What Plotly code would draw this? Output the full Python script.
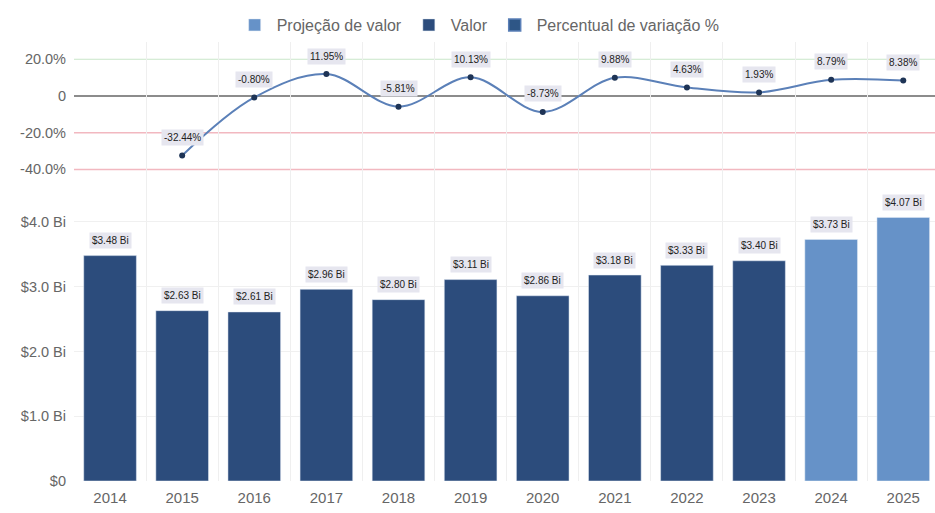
import plotly.graph_objects as go

years = ["2014", "2015", "2016", "2017", "2018", "2019", "2020", "2021", "2022", "2023", "2024", "2025"]
valor_years = years[:10]
valor = [3.48, 2.63, 2.61, 2.96, 2.80, 3.11, 2.86, 3.18, 3.33, 3.40]
proj_years = years[10:]
projecao = [3.73, 4.07]
pct_years = years[1:]
pct = [-32.44, -0.80, 11.95, -5.81, 10.13, -8.73, 9.88, 4.63, 1.93, 8.79, 8.38]

val_ticks = [0, 1, 2, 3, 4]
val_ticktext = ["$0", "$1.0 Bi", "$2.0 Bi", "$3.0 Bi", "$4.0 Bi"]
pct_ticks = [-40, -20, 0, 20]
pct_ticktext = ["-40.0%", "-20.0%", "0", "20.0%"]
ref_lines = [(20, "#c9e6c9", 1.2), (0, "#666666", 1.5), (-20, "#f2b8c0", 1.5), (-40, "#f2b8c0", 1.5)]

DARK = "#2c4c7c"
LIGHT = "#6692c8"
LINE = "#5b80b8"
FONT = "Liberation Sans, Arial, sans-serif"

fig = go.Figure()
fig.add_trace(go.Bar(x=proj_years, y=projecao, name="Projeção de valor", marker_color=LIGHT,
                     width=0.73, yaxis="y"))
fig.add_trace(go.Bar(x=valor_years, y=valor, name="Valor", marker_color=DARK, width=0.73, yaxis="y"))
fig.add_trace(go.Bar(x=[None], y=[None], name="Percentual de variação %",
                     marker=dict(color="#2e5686", line=dict(color=LINE, width=1.5)), yaxis="y"))
fig.add_trace(go.Scatter(x=pct_years, y=pct, mode="lines+markers", yaxis="y2", showlegend=False,
                         line=dict(color=LINE, width=2, shape="spline", smoothing=1.0),
                         marker=dict(color="#1e3456", size=6)))

annos = []
for x, v in list(zip(valor_years, valor)) + list(zip(proj_years, projecao)):
    annos.append(dict(x=years.index(x), y=v, xref="x", yref="y", text=f"${v:.2f} Bi", showarrow=False,
                      yshift=15, bgcolor="#e6e6ef", borderpad=2,
                      font=dict(size=10, color="#222222", family=FONT)))
for x, v in zip(pct_years, pct):
    annos.append(dict(x=years.index(x), y=v, xref="x", yref="y2", text=f"{v:.2f}%", showarrow=False,
                      yshift=18, bgcolor="#e6e6ef", borderpad=2,
                      font=dict(size=10, color="#222222", family=FONT)))

shapes = []
for yv, col, w in ref_lines:
    shapes.append(dict(type="line", xref="paper", x0=0, x1=1, yref="y2", y0=yv, y1=yv,
                       line=dict(color=col, width=w), layer="below"))

fig.update_layout(
    width=935, height=513,
    margin=dict(l=74, r=0, t=42, b=32),
    paper_bgcolor="white", plot_bgcolor="white",
    barmode="overlay",
    font=dict(family=FONT, color="#666666", size=13),
    legend=dict(orientation="h", x=0.47, xanchor="center", y=1.0, yanchor="bottom",
                font=dict(size=16, color="#666666"), traceorder="normal", itemwidth=34),
    xaxis=dict(type="category", categoryorder="array", categoryarray=years,
               range=[-0.5, 11.44], tickson="boundaries", showgrid=True, gridcolor="#efefef",
               ticks="", ticklabelstandoff=6,
               showline=False, zeroline=False, tickfont=dict(size=15, color="#666666")),
    yaxis=dict(domain=[0, 0.663], range=[0, 4.494], tickvals=val_ticks, ticktext=val_ticktext,
               showgrid=True, gridcolor="#f0f0f0", zeroline=False, ticks="", ticklabelstandoff=7,
               tickfont=dict(size=14.5, color="#666666")),
    yaxis2=dict(domain=[0.663, 1], range=[-51.2, 29.4], tickvals=pct_ticks, ticktext=pct_ticktext,
                showgrid=False, zeroline=False, ticks="", anchor="x", ticklabelstandoff=7,
                tickfont=dict(size=14.5, color="#666666")),
    annotations=annos,
    shapes=shapes,
)

fig.write_html("out.html")
